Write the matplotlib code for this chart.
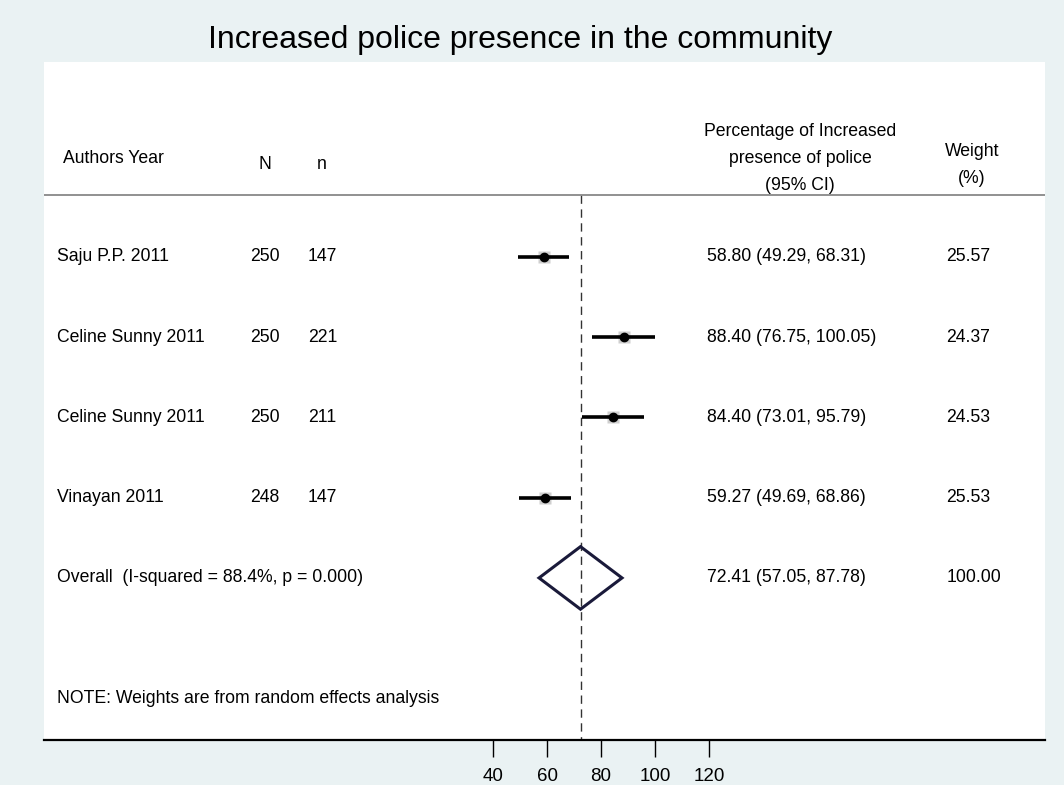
import matplotlib
matplotlib.use("Agg")
import matplotlib.pyplot as plt
import numpy as np
from matplotlib.patches import Polygon

# data
studies = ["Saju P.P. 2011", "Celine Sunny 2011", "Celine Sunny 2011", "Vinayan 2011"]
n_total = [250, 250, 250, 248]
n_cases = [147, 221, 211, 147]
est = [58.80, 88.40, 84.40, 59.27]
lo = [49.29, 76.75, 73.01, 49.69]
hi = [68.31, 100.05, 95.79, 68.86]
weights = [25.57, 24.37, 24.53, 25.53]
overall = (72.41, 57.05, 87.78)
overall_label = "Overall  (I-squared = 88.4%, p = 0.000)"
xticks = [40, 60, 80, 100, 120]

BG = "#eaf2f3"
plt.rcParams["font.family"] = ["Liberation Sans", "DejaVu Sans"]

fig = plt.figure(figsize=(10.64, 7.85), dpi=100, facecolor=BG)
ax = fig.add_axes([44 / 1064, 1 - 740 / 785, (1045 - 44) / 1064, (740 - 62) / 785])
ax.set_facecolor("white")

# pixel -> data scale: 40 at x=493px, 2.7 px per unit
ax.set_xlim(40 - (493 - 44) / 2.7, 120 + (1045 - 709) / 2.7)
ax.set_ylim(6.02, -2.43)

for s in ["top", "right", "left"]:
    ax.spines[s].set_visible(False)
ax.spines["bottom"].set_linewidth(1.6)
ax.set_yticks([])
ax.set_xticks(xticks)
ax.tick_params(axis="x", length=12, width=1, labelsize=13.5, pad=8)

fs = 12.7
rows = np.arange(len(studies))

# header
ax.axhline(-0.77, color="#888888", lw=1.3)
ax.text(-119.3, -1.23, "Authors Year", fontsize=fs, va="center", ha="left")
ax.text(-44.4, -1.15, "N", fontsize=fs, va="center", ha="center")
ax.text(-23.3, -1.15, "n", fontsize=fs, va="center", ha="center")
ax.text(153.7, -1.23, "Percentage of Increased\npresence of police\n(95% CI)",
        fontsize=fs, va="center", ha="center", linespacing=1.75)
ax.text(217.4, -1.15, "Weight\n(%)", fontsize=fs, va="center", ha="center",
        linespacing=1.75)

# reference line at overall estimate
ax.plot([overall[0], overall[0]], [-0.77, 6.02], color="#333333", lw=1,
        ls=(0, (6, 4)), zorder=1)

for i in rows:
    ax.text(-121.5, i, studies[i], fontsize=fs, va="center", ha="left")
    ax.text(-44.4, i, str(n_total[i]), fontsize=fs, va="center", ha="center")
    ax.text(-28.5, i, str(n_cases[i]), fontsize=fs, va="center", ha="left")
    ax.text(119.3, i, f"{est[i]:.2f} ({lo[i]:.2f}, {hi[i]:.2f})", fontsize=fs,
            va="center", ha="left")
    ax.text(208, i, f"{weights[i]:.2f}", fontsize=fs, va="center", ha="left")
    ax.plot([lo[i], hi[i]], [i, i], color="black", lw=2.6, solid_capstyle="butt", zorder=3)
    ax.plot(est[i], i, marker="s", ms=weights[i] * 0.36, color="#cfcfcf",
            mec="none", zorder=2)
    ax.plot(est[i], i, marker="o", ms=6, color="black", zorder=4)

# overall diamond
yo = len(studies)
dia = Polygon([[overall[1], yo], [overall[0], yo - 0.39], [overall[2], yo],
               [overall[0], yo + 0.39]], closed=True, fill=False,
              edgecolor="#1a1a3a", lw=2.2, zorder=3)
ax.add_patch(dia)
ax.text(-121.5, yo, overall_label, fontsize=fs, va="center", ha="left")
ax.text(119.3, yo, f"{overall[0]:.2f} ({overall[1]:.2f}, {overall[2]:.2f})",
        fontsize=fs, va="center", ha="left")
ax.text(208, yo, "100.00", fontsize=fs, va="center", ha="left")

ax.text(-121.5, 5.5, "NOTE: Weights are from random effects analysis",
        fontsize=fs, va="center", ha="left")

fig.text(520 / 1064, 1 - 40 / 785, "Increased police presence in the community",
         fontsize=23, ha="center", va="center")

fig.savefig("out.png", dpi=100, facecolor=BG)
